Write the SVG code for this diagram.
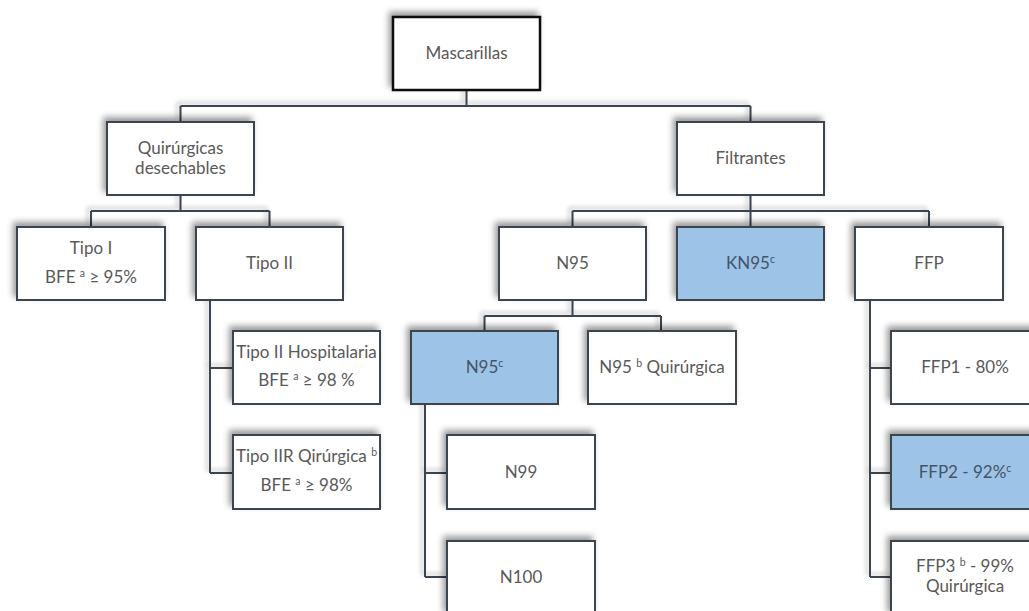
<svg xmlns="http://www.w3.org/2000/svg" width="1029" height="611" viewBox="0 0 1029 611">
<defs>
<filter id="sh" x="-20%" y="-30%" width="140%" height="160%">
<feDropShadow dx="-3" dy="-4" stdDeviation="3" flood-color="#000" flood-opacity="0.4"/>
</filter>
<filter id="shl" x="-50%" y="-10%" width="200%" height="120%">
<feDropShadow dx="-3" dy="-3" stdDeviation="2" flood-color="#000" flood-opacity="0.25"/>
</filter>
</defs>
<style>
.b{fill:#fff;stroke:#3a4450;stroke-width:2;filter:url(#sh)}
.bl{fill:#9dc3e6;stroke:#3a4450;stroke-width:2;filter:url(#sh)}
.top{fill:#fff;stroke:#111;stroke-width:2.5;filter:url(#sh)}
.t{font-family:Lato,"Liberation Sans",sans-serif;font-size:17px;fill:#595959;text-anchor:middle}
.tb{font-family:Lato,"Liberation Sans",sans-serif;font-size:17px;fill:#44546a;text-anchor:middle}
.s{font-size:10.5px}
#conn path{fill:none;stroke:#3a4450;stroke-width:2;filter:url(#shl)}
</style>
<rect width="1029" height="611" fill="#fff"/>
<g id="conn">
<path d="M466.5 90V106M180.5 106H750.5M180.5 106V122M750.5 106V122"/>
<path d="M180.5 195V211M91 211H269.5M91 211V227M269.5 211V227"/>
<path d="M750.5 195V227M572.5 211H929M572.5 211V227M929 211V227"/>
<path d="M210 300V473M210 368H233M210 473H233"/>
<path d="M572.5 300V316M484.5 316H661M484.5 316V331M661 316V331"/>
<path d="M425 404V577M425 473H447M425 577H447"/>
<path d="M870 300V577M870 368H891M870 473H891M870 577H891"/>
</g>
<g id="mascarillas"><rect class="top" x="393" y="17" width="147" height="73"/><text class="t" x="466.5" y="59">Mascarillas</text></g>
<g id="quirurgicas"><rect class="b" x="107" y="122" width="147" height="73"/><text class="t" x="180.5" y="154">Quirúrgicas</text><text class="t" x="180.5" y="174">desechables</text></g>
<g id="filtrantes"><rect class="b" x="677" y="122" width="147" height="73"/><text class="t" x="750.5" y="164">Filtrantes</text></g>
<g id="tipo1"><rect class="b" x="17" y="227" width="148" height="73"/><text class="t" x="91" y="254">Tipo I</text><text class="t" x="91" y="283">BFE <tspan class="s" baseline-shift="super">a</tspan>  ≥ 95%</text></g>
<g id="tipo2"><rect class="b" x="196" y="227" width="147" height="73"/><text class="t" x="269.5" y="269">Tipo II</text></g>
<g id="n95"><rect class="b" x="499" y="227" width="147" height="73"/><text class="t" x="572.5" y="269">N95</text></g>
<g id="kn95"><rect class="bl" x="677" y="227" width="147" height="73"/><text class="tb" x="750.5" y="269">KN95<tspan class="s" baseline-shift="super">c</tspan></text></g>
<g id="ffp"><rect class="b" x="855" y="227" width="148" height="73"/><text class="t" x="929" y="269">FFP</text></g>
<g id="tipo2hosp"><rect class="b" x="233" y="331" width="147" height="73"/><text class="t" x="306.5" y="358">Tipo II Hospitalaria</text><text class="t" x="306.5" y="386">BFE <tspan class="s" baseline-shift="super">a</tspan>  ≥ 98 %</text></g>
<g id="tipo2r"><rect class="b" x="233" y="435" width="147" height="74"/><text class="t" x="306.5" y="462">Tipo IIR Qirúrgica <tspan class="s" baseline-shift="super">b</tspan></text><text class="t" x="306.5" y="491">BFE <tspan class="s" baseline-shift="super">a</tspan>  ≥ 98%</text></g>
<g id="n95c"><rect class="bl" x="411" y="331" width="147" height="73"/><text class="tb" x="484.5" y="373">N95<tspan class="s" baseline-shift="super">c</tspan></text></g>
<g id="n95q"><rect class="b" x="588" y="331" width="148" height="73"/><text class="t" x="662" y="373">N95 <tspan class="s" baseline-shift="super">b</tspan> Quirúrgica</text></g>
<g id="n99"><rect class="b" x="447" y="435" width="148" height="74"/><text class="t" x="521" y="478">N99</text></g>
<g id="n100"><rect class="b" x="447" y="541" width="148" height="74"/><text class="t" x="521" y="583">N100</text></g>
<g id="ffp1"><rect class="b" x="891" y="331" width="148" height="73"/><text class="t" x="965" y="373">FFP1 - 80%</text></g>
<g id="ffp2"><rect class="bl" x="891" y="435" width="148" height="74"/><text class="tb" x="965" y="478">FFP2 - 92%<tspan class="s" baseline-shift="super">c</tspan></text></g>
<g id="ffp3"><rect class="b" x="891" y="541" width="148" height="74"/><text class="t" x="965" y="572">FFP3 <tspan class="s" baseline-shift="super">b</tspan> - 99%</text><text class="t" x="965" y="592">Quirúrgica</text></g>
</svg>
